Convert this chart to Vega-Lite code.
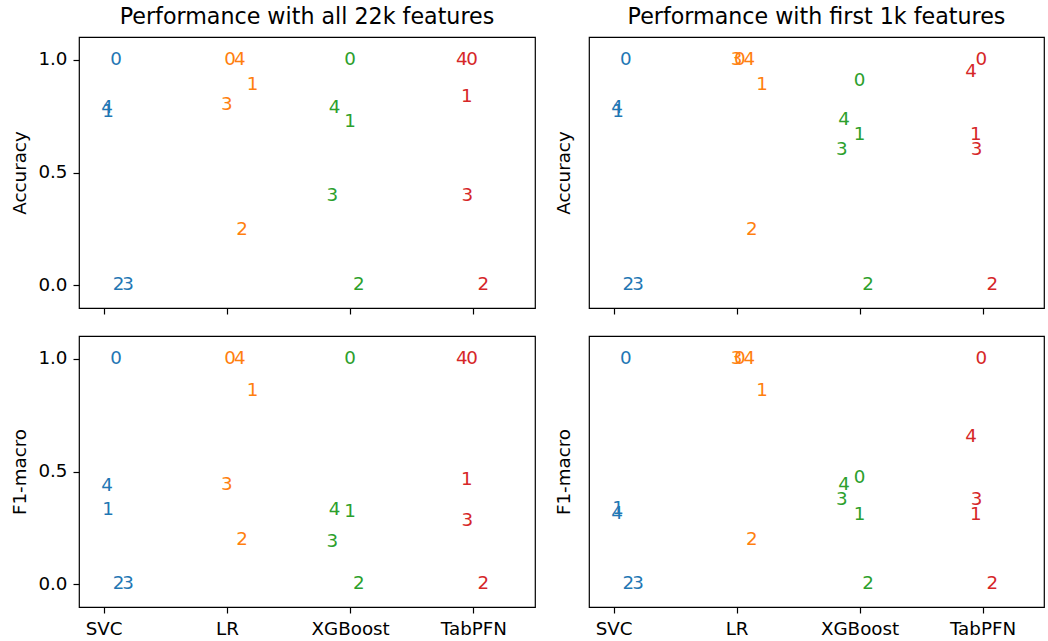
{
  "$schema": "https://vega.github.io/schema/vega-lite/v6.json",
  "background": "white",
  "padding": {"left": 10, "top": 5, "right": 5, "bottom": 5},
  "data": {"values": [
    {"features": "all", "metric": "Accuracy", "model": "SVC", "fold": "0", "pos": 0.10, "value": 1.0},
    {"features": "all", "metric": "Accuracy", "model": "SVC", "fold": "1", "pos": 0.036, "value": 0.77},
    {"features": "all", "metric": "Accuracy", "model": "SVC", "fold": "2", "pos": 0.12, "value": 0.0},
    {"features": "all", "metric": "Accuracy", "model": "SVC", "fold": "3", "pos": 0.198, "value": 0.0},
    {"features": "all", "metric": "Accuracy", "model": "SVC", "fold": "4", "pos": 0.028, "value": 0.785},
    {"features": "all", "metric": "Accuracy", "model": "LR", "fold": "0", "pos": 1.026, "value": 1.0},
    {"features": "all", "metric": "Accuracy", "model": "LR", "fold": "1", "pos": 1.208, "value": 0.887},
    {"features": "all", "metric": "Accuracy", "model": "LR", "fold": "2", "pos": 1.124, "value": 0.246},
    {"features": "all", "metric": "Accuracy", "model": "LR", "fold": "3", "pos": 1.0, "value": 0.797},
    {"features": "all", "metric": "Accuracy", "model": "LR", "fold": "4", "pos": 1.104, "value": 1.0},
    {"features": "all", "metric": "Accuracy", "model": "XGBoost", "fold": "0", "pos": 2.0, "value": 1.0},
    {"features": "all", "metric": "Accuracy", "model": "XGBoost", "fold": "1", "pos": 2.0, "value": 0.722},
    {"features": "all", "metric": "Accuracy", "model": "XGBoost", "fold": "2", "pos": 2.07, "value": 0.0},
    {"features": "all", "metric": "Accuracy", "model": "XGBoost", "fold": "3", "pos": 1.855, "value": 0.398},
    {"features": "all", "metric": "Accuracy", "model": "XGBoost", "fold": "4", "pos": 1.874, "value": 0.787},
    {"features": "all", "metric": "Accuracy", "model": "TabPFN", "fold": "0", "pos": 2.99, "value": 1.0},
    {"features": "all", "metric": "Accuracy", "model": "TabPFN", "fold": "1", "pos": 2.946, "value": 0.833},
    {"features": "all", "metric": "Accuracy", "model": "TabPFN", "fold": "2", "pos": 3.08, "value": 0.0},
    {"features": "all", "metric": "Accuracy", "model": "TabPFN", "fold": "3", "pos": 2.951, "value": 0.398},
    {"features": "all", "metric": "Accuracy", "model": "TabPFN", "fold": "4", "pos": 2.906, "value": 1.0},

    {"features": "first", "metric": "Accuracy", "model": "SVC", "fold": "0", "pos": 0.10, "value": 1.0},
    {"features": "first", "metric": "Accuracy", "model": "SVC", "fold": "1", "pos": 0.036, "value": 0.77},
    {"features": "first", "metric": "Accuracy", "model": "SVC", "fold": "2", "pos": 0.12, "value": 0.0},
    {"features": "first", "metric": "Accuracy", "model": "SVC", "fold": "3", "pos": 0.198, "value": 0.0},
    {"features": "first", "metric": "Accuracy", "model": "SVC", "fold": "4", "pos": 0.028, "value": 0.785},
    {"features": "first", "metric": "Accuracy", "model": "LR", "fold": "0", "pos": 1.026, "value": 1.0},
    {"features": "first", "metric": "Accuracy", "model": "LR", "fold": "1", "pos": 1.208, "value": 0.887},
    {"features": "first", "metric": "Accuracy", "model": "LR", "fold": "2", "pos": 1.124, "value": 0.246},
    {"features": "first", "metric": "Accuracy", "model": "LR", "fold": "3", "pos": 1.0, "value": 1.0},
    {"features": "first", "metric": "Accuracy", "model": "LR", "fold": "4", "pos": 1.104, "value": 1.0},
    {"features": "first", "metric": "Accuracy", "model": "XGBoost", "fold": "0", "pos": 2.0, "value": 0.904},
    {"features": "first", "metric": "Accuracy", "model": "XGBoost", "fold": "1", "pos": 2.0, "value": 0.664},
    {"features": "first", "metric": "Accuracy", "model": "XGBoost", "fold": "2", "pos": 2.07, "value": 0.0},
    {"features": "first", "metric": "Accuracy", "model": "XGBoost", "fold": "3", "pos": 1.855, "value": 0.598},
    {"features": "first", "metric": "Accuracy", "model": "XGBoost", "fold": "4", "pos": 1.874, "value": 0.732},
    {"features": "first", "metric": "Accuracy", "model": "TabPFN", "fold": "0", "pos": 2.99, "value": 1.0},
    {"features": "first", "metric": "Accuracy", "model": "TabPFN", "fold": "1", "pos": 2.946, "value": 0.664},
    {"features": "first", "metric": "Accuracy", "model": "TabPFN", "fold": "2", "pos": 3.08, "value": 0.0},
    {"features": "first", "metric": "Accuracy", "model": "TabPFN", "fold": "3", "pos": 2.951, "value": 0.598},
    {"features": "first", "metric": "Accuracy", "model": "TabPFN", "fold": "4", "pos": 2.906, "value": 0.944},

    {"features": "all", "metric": "F1-macro", "model": "SVC", "fold": "0", "pos": 0.10, "value": 1.0},
    {"features": "all", "metric": "F1-macro", "model": "SVC", "fold": "1", "pos": 0.036, "value": 0.331},
    {"features": "all", "metric": "F1-macro", "model": "SVC", "fold": "2", "pos": 0.12, "value": 0.0},
    {"features": "all", "metric": "F1-macro", "model": "SVC", "fold": "3", "pos": 0.198, "value": 0.0},
    {"features": "all", "metric": "F1-macro", "model": "SVC", "fold": "4", "pos": 0.028, "value": 0.437},
    {"features": "all", "metric": "F1-macro", "model": "LR", "fold": "0", "pos": 1.026, "value": 1.0},
    {"features": "all", "metric": "F1-macro", "model": "LR", "fold": "1", "pos": 1.208, "value": 0.858},
    {"features": "all", "metric": "F1-macro", "model": "LR", "fold": "2", "pos": 1.124, "value": 0.198},
    {"features": "all", "metric": "F1-macro", "model": "LR", "fold": "3", "pos": 1.0, "value": 0.44},
    {"features": "all", "metric": "F1-macro", "model": "LR", "fold": "4", "pos": 1.104, "value": 1.0},
    {"features": "all", "metric": "F1-macro", "model": "XGBoost", "fold": "0", "pos": 2.0, "value": 1.0},
    {"features": "all", "metric": "F1-macro", "model": "XGBoost", "fold": "1", "pos": 2.0, "value": 0.319},
    {"features": "all", "metric": "F1-macro", "model": "XGBoost", "fold": "2", "pos": 2.07, "value": 0.0},
    {"features": "all", "metric": "F1-macro", "model": "XGBoost", "fold": "3", "pos": 1.855, "value": 0.188},
    {"features": "all", "metric": "F1-macro", "model": "XGBoost", "fold": "4", "pos": 1.874, "value": 0.33},
    {"features": "all", "metric": "F1-macro", "model": "TabPFN", "fold": "0", "pos": 2.99, "value": 1.0},
    {"features": "all", "metric": "F1-macro", "model": "TabPFN", "fold": "1", "pos": 2.946, "value": 0.464},
    {"features": "all", "metric": "F1-macro", "model": "TabPFN", "fold": "2", "pos": 3.08, "value": 0.0},
    {"features": "all", "metric": "F1-macro", "model": "TabPFN", "fold": "3", "pos": 2.951, "value": 0.282},
    {"features": "all", "metric": "F1-macro", "model": "TabPFN", "fold": "4", "pos": 2.906, "value": 1.0},

    {"features": "first", "metric": "F1-macro", "model": "SVC", "fold": "0", "pos": 0.10, "value": 1.0},
    {"features": "first", "metric": "F1-macro", "model": "SVC", "fold": "1", "pos": 0.036, "value": 0.336},
    {"features": "first", "metric": "F1-macro", "model": "SVC", "fold": "2", "pos": 0.12, "value": 0.0},
    {"features": "first", "metric": "F1-macro", "model": "SVC", "fold": "3", "pos": 0.198, "value": 0.0},
    {"features": "first", "metric": "F1-macro", "model": "SVC", "fold": "4", "pos": 0.028, "value": 0.312},
    {"features": "first", "metric": "F1-macro", "model": "LR", "fold": "0", "pos": 1.026, "value": 1.0},
    {"features": "first", "metric": "F1-macro", "model": "LR", "fold": "1", "pos": 1.208, "value": 0.858},
    {"features": "first", "metric": "F1-macro", "model": "LR", "fold": "2", "pos": 1.124, "value": 0.198},
    {"features": "first", "metric": "F1-macro", "model": "LR", "fold": "3", "pos": 1.0, "value": 1.0},
    {"features": "first", "metric": "F1-macro", "model": "LR", "fold": "4", "pos": 1.104, "value": 1.0},
    {"features": "first", "metric": "F1-macro", "model": "XGBoost", "fold": "0", "pos": 2.0, "value": 0.472},
    {"features": "first", "metric": "F1-macro", "model": "XGBoost", "fold": "1", "pos": 2.0, "value": 0.307},
    {"features": "first", "metric": "F1-macro", "model": "XGBoost", "fold": "2", "pos": 2.07, "value": 0.0},
    {"features": "first", "metric": "F1-macro", "model": "XGBoost", "fold": "3", "pos": 1.855, "value": 0.373},
    {"features": "first", "metric": "F1-macro", "model": "XGBoost", "fold": "4", "pos": 1.874, "value": 0.441},
    {"features": "first", "metric": "F1-macro", "model": "TabPFN", "fold": "0", "pos": 2.99, "value": 1.0},
    {"features": "first", "metric": "F1-macro", "model": "TabPFN", "fold": "1", "pos": 2.946, "value": 0.307},
    {"features": "first", "metric": "F1-macro", "model": "TabPFN", "fold": "2", "pos": 3.08, "value": 0.0},
    {"features": "first", "metric": "F1-macro", "model": "TabPFN", "fold": "3", "pos": 2.951, "value": 0.375},
    {"features": "first", "metric": "F1-macro", "model": "TabPFN", "fold": "4", "pos": 2.906, "value": 0.652}
  ]},
  "config": {
    "font": "DejaVu Sans",
    "view": {"stroke": "black", "strokeWidth": 1.2},
    "axis": {"domain": false, "grid": false, "tickColor": "black", "tickSize": 6, "tickWidth": 1.2, "labelFontSize": 18.3, "labelColor": "black", "labelPadding": 6, "titleFontSize": 18.3, "titleFontWeight": "normal", "titleColor": "black"},
    "title": {"fontSize": 22.2, "fontWeight": "normal", "color": "black", "anchor": "middle", "offset": 9},
    "text": {"fontSize": 18.3, "align": "center", "baseline": "middle"}
  },
  "vconcat": [
    {"hconcat": [
      {"width": 456, "height": 271,
       "title": "Performance with all 22k features",
       "transform": [{"filter": "datum.features === 'all' && datum.metric === 'Accuracy'"}],
       "mark": "text",
       "encoding": {
         "x": {"field": "pos", "type": "quantitative", "scale": {"domain": [-0.2, 3.5], "nice": false, "zero": false}, "axis": {"title": null, "values": [0, 1, 2, 3], "labels": false}},
         "y": {"field": "value", "type": "quantitative", "scale": {"domain": [-0.1, 1.1], "nice": false, "zero": false}, "axis": {"title": "Accuracy", "values": [0, 0.5, 1], "format": ".1f", "titlePadding": 8}},
         "color": {"field": "model", "type": "nominal", "scale": {"domain": ["SVC", "LR", "XGBoost", "TabPFN"], "range": ["#1f77b4", "#ff7f0e", "#2ca02c", "#d62728"]}, "legend": null},
         "text": {"field": "fold", "type": "nominal"}
       }},
      {"width": 455, "height": 271,
       "title": "Performance with first 1k features",
       "transform": [{"filter": "datum.features === 'first' && datum.metric === 'Accuracy'"}],
       "mark": "text",
       "encoding": {
         "x": {"field": "pos", "type": "quantitative", "scale": {"domain": [-0.2, 3.5], "nice": false, "zero": false}, "axis": {"title": null, "values": [0, 1, 2, 3], "labels": false}},
         "y": {"field": "value", "type": "quantitative", "scale": {"domain": [-0.1, 1.1], "nice": false, "zero": false}, "axis": {"title": "Accuracy", "values": [0, 0.5, 1], "labels": false, "ticks": false, "titlePadding": 16}},
         "color": {"field": "model", "type": "nominal", "scale": {"domain": ["SVC", "LR", "XGBoost", "TabPFN"], "range": ["#1f77b4", "#ff7f0e", "#2ca02c", "#d62728"]}, "legend": null},
         "text": {"field": "fold", "type": "nominal"}
       }}
    ], "spacing": 17},
    {"hconcat": [
      {"width": 456, "height": 271,
       "transform": [{"filter": "datum.features === 'all' && datum.metric === 'F1-macro'"}],
       "mark": "text",
       "encoding": {
         "x": {"field": "pos", "type": "quantitative", "scale": {"domain": [-0.2, 3.5], "nice": false, "zero": false}, "axis": {"title": null, "values": [0, 1, 2, 3], "labelExpr": "['SVC','LR','XGBoost','TabPFN'][datum.value]", "labelPadding": 7}},
         "y": {"field": "value", "type": "quantitative", "scale": {"domain": [-0.1, 1.1], "nice": false, "zero": false}, "axis": {"title": "F1-macro", "values": [0, 0.5, 1], "format": ".1f", "titlePadding": 8}},
         "color": {"field": "model", "type": "nominal", "scale": {"domain": ["SVC", "LR", "XGBoost", "TabPFN"], "range": ["#1f77b4", "#ff7f0e", "#2ca02c", "#d62728"]}, "legend": null},
         "text": {"field": "fold", "type": "nominal"}
       }},
      {"width": 455, "height": 271,
       "transform": [{"filter": "datum.features === 'first' && datum.metric === 'F1-macro'"}],
       "mark": "text",
       "encoding": {
         "x": {"field": "pos", "type": "quantitative", "scale": {"domain": [-0.2, 3.5], "nice": false, "zero": false}, "axis": {"title": null, "values": [0, 1, 2, 3], "labelExpr": "['SVC','LR','XGBoost','TabPFN'][datum.value]", "labelPadding": 7}},
         "y": {"field": "value", "type": "quantitative", "scale": {"domain": [-0.1, 1.1], "nice": false, "zero": false}, "axis": {"title": "F1-macro", "values": [0, 0.5, 1], "labels": false, "ticks": false, "titlePadding": 16}},
         "color": {"field": "model", "type": "nominal", "scale": {"domain": ["SVC", "LR", "XGBoost", "TabPFN"], "range": ["#1f77b4", "#ff7f0e", "#2ca02c", "#d62728"]}, "legend": null},
         "text": {"field": "fold", "type": "nominal"}
       }}
    ], "spacing": 17}
  ],
  "spacing": 19
}
